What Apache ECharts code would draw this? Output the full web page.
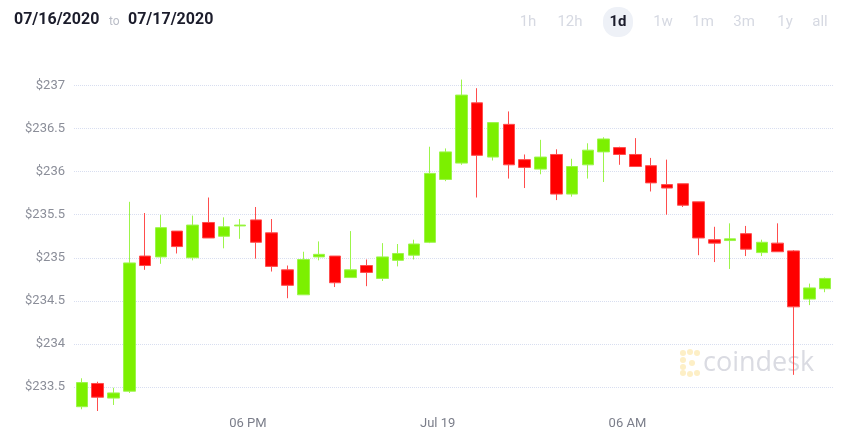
<!DOCTYPE html>
<html>
<head>
<meta charset="utf-8">
<script src="https://cdn.jsdelivr.net/npm/echarts@6/dist/echarts.min.js"></script>
<style>
	html, body { margin: 0; padding: 0; background: #fff; }
	#chart { width: 854px; height: 447px; }
</style>
</head>
<body>
<div id="chart"></div>
<script>
	// half-hour candles, 12:30 PM -> 12:00 PM next day
	const times = [
		'12:30', '13:00', '13:30', '14:00', '14:30', '15:00', '15:30', '16:00',
		'16:30', '17:00', '17:30', '18:00', '18:30', '19:00', '19:30', '20:00',
		'20:30', '21:00', '21:30', '22:00', '22:30', '23:00', '23:30', '00:00',
		'00:30', '01:00', '01:30', '02:00', '02:30', '03:00', '03:30', '04:00',
		'04:30', '05:00', '05:30', '06:00', '06:30', '07:00', '07:30', '08:00',
		'08:30', '09:00', '09:30', '10:00', '10:30', '11:00', '11:30', '12:00'
	];
	const opens  = [233.27, 233.54, 233.37, 233.45, 235.02, 235.01, 235.31, 235.00, 235.41, 235.25,
	                235.37, 235.44, 235.29, 234.86, 234.57, 235.01, 235.02, 234.77, 234.91, 234.76,
	                234.97, 235.03, 235.18, 235.91, 236.10, 236.80, 236.17, 236.55, 236.14, 236.03,
	                236.20, 235.74, 236.08, 236.23, 236.28, 236.20, 236.07, 235.85, 235.86, 235.65,
	                235.21, 235.20, 235.28, 235.06, 235.17, 235.08, 234.52, 234.64];
	const closes = [233.55, 233.38, 233.43, 234.94, 234.91, 235.35, 235.13, 235.38, 235.23, 235.36,
	                235.38, 235.18, 234.90, 234.68, 234.98, 235.04, 234.71, 234.86, 234.83, 235.01,
	                235.05, 235.16, 235.98, 236.23, 236.89, 236.19, 236.57, 236.08, 236.05, 236.17,
	                235.74, 236.06, 236.25, 236.38, 236.20, 236.06, 235.87, 235.81, 235.61, 235.23,
	                235.17, 235.22, 235.10, 235.18, 235.07, 234.43, 234.65, 234.76];
	const lows   = [233.24, 233.22, 233.29, 233.43, 234.86, 234.93, 235.05, 234.97, 235.23, 235.11,
	                235.22, 234.99, 234.84, 234.53, 234.57, 234.97, 234.66, 234.77, 234.67, 234.73,
	                234.90, 234.98, 235.17, 235.89, 236.08, 235.70, 236.13, 235.92, 235.81, 235.97,
	                235.67, 235.71, 235.92, 235.88, 236.08, 236.06, 235.77, 235.50, 235.59, 235.03,
	                234.95, 234.87, 235.02, 235.02, 235.07, 233.64, 234.45, 234.60];
	const highs  = [233.60, 233.56, 233.49, 235.65, 235.52, 235.50, 235.31, 235.49, 235.70, 235.47,
	                235.45, 235.59, 235.45, 234.91, 235.07, 235.19, 235.02, 235.31, 234.98, 235.17,
	                235.16, 235.21, 236.29, 236.27, 237.07, 236.97, 236.57, 236.70, 236.20, 236.37,
	                236.26, 236.15, 236.33, 236.40, 236.29, 236.39, 236.16, 236.14, 235.86, 235.65,
	                235.36, 235.40, 235.37, 235.21, 235.40, 235.09, 234.70, 234.77];

	// y ticks and x tick labels (x labels sit on candle boundaries)
	const yTicks = [233.5, 234, 234.5, 235, 235.5, 236, 236.5, 237];
	const xTickIndex = [11, 23, 35];
	const xTickLabels = ['06 PM', 'Jul 19', '06 AM'];
	const ranges = ['1h', '12h', '1d', '1w', '1m', '3m', '1y', 'all'];
	const rangeX = [528, 570, 618, 663, 703, 744, 785, 820];

	const upColor = '#7cf000';
	const downColor = '#ff0000';

	const candleData = times.map((t, i) => [opens[i], closes[i], lows[i], highs[i]]);
	const boundaryLabels = [];
	for (let i = 0; i <= times.length; i++) {
		const k = xTickIndex.indexOf(i);
		boundaryLabels.push(k >= 0 ? xTickLabels[k] : '');
	}

	const headerGraphics = [
		{ type: 'text', left: 14, top: 12, style: { text: '07/16/2020', font: 'bold 16px Roboto', fill: '#1b1c2b' } },
		{ type: 'text', left: 109, top: 16, style: { text: 'to', font: '12px Roboto', fill: '#b9bcc6' } },
		{ type: 'text', left: 128, top: 12, style: { text: '07/17/2020', font: 'bold 16px Roboto', fill: '#1b1c2b' } },
		{ type: 'rect', shape: { x: 603, y: 7, width: 30, height: 30, r: 14 }, style: { fill: '#eef1f7' } }
	];
	ranges.forEach((r, i) => {
		headerGraphics.push({
			type: 'text', x: rangeX[i], y: 22,
			style: {
				text: r, align: 'center', verticalAlign: 'middle',
				font: (r === '1d' ? 'bold ' : '') + '15px Roboto',
				fill: r === '1d' ? '#1b1c2b' : '#d6d9e2'
			}
		});
	});
	// coindesk watermark
	const logoDots = [[683, 353], [690, 352], [697, 353], [683, 360], [683, 367], [683, 373], [690, 374], [697, 373], [692, 363]];
	const logo = logoDots.map(d => ({ type: 'circle', shape: { cx: d[0], cy: d[1], r: 3 }, style: { fill: '#fdefc6' } }));
	logo.push({ type: 'text', x: 703, y: 363, style: { text: 'coindesk', font: '27px "Open Sans"', fill: '#dadbe2', verticalAlign: 'middle' } });

	const chart = echarts.init(document.getElementById('chart'));
	chart.setOption({
		animation: false,
		backgroundColor: '#fff',
		graphic: headerGraphics.concat(logo),
		grid: { left: 74, right: 21, top: 77, bottom: 36 },
		xAxis: [{
			type: 'category',
			data: times,
			show: false
		}, {
			type: 'category',
			data: boundaryLabels,
			boundaryGap: false,
			position: 'bottom',
			axisLine: { show: false },
			axisTick: { show: false },
			axisLabel: {
				interval: (i, v) => v !== '',
				color: '#7b7e8a', fontSize: 13, fontFamily: 'Roboto', margin: 6
			},
			splitLine: { show: false }
		}],
		yAxis: {
			type: 'value',
			min: 233.22,
			max: 237.1,
			axisLine: { show: false },
			axisTick: { show: false, customValues: yTicks },
			axisLabel: {
				customValues: yTicks,
				formatter: v => '$' + v,
				color: '#8b8e99', fontSize: 13, fontFamily: 'Roboto', margin: 9
			},
			splitLine: { show: true, lineStyle: { color: '#d8def0', type: 'dotted', width: 1 } }
		},
		series: [{
			type: 'candlestick',
			xAxisIndex: 0,
			data: candleData,
			barWidth: 12,
			itemStyle: {
				color: upColor, color0: downColor,
				borderColor: '#9cf54a', borderColor0: '#ff4d4d', borderWidth: 1
			}
		}]
	});
</script>
</body>
</html>
